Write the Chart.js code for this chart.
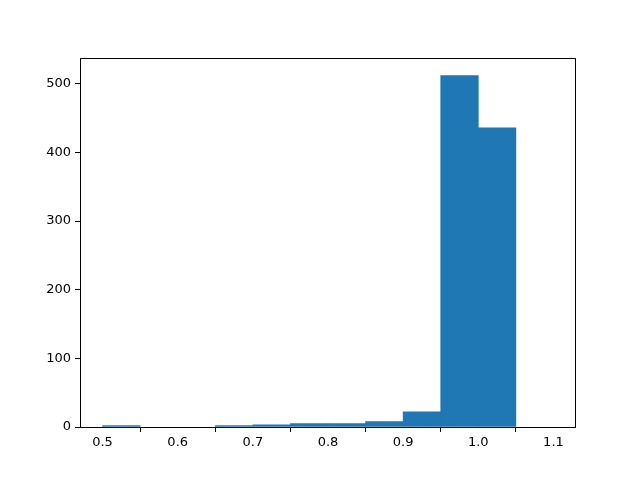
<!DOCTYPE html>
<html>
<head>
<meta charset="utf-8">
<script src="https://cdn.jsdelivr.net/npm/chart.js@4"></script>
<style>
  html, body { margin: 0; padding: 0; background: #fff; }
  #wrap { width: 640px; height: 480px; }
</style>
</head>
<body>
<div id="wrap"><canvas id="hist"></canvas></div>
<script>
// histogram bins (left edges) and counts
const binEdges = [0.5, 0.55, 0.6, 0.65, 0.7, 0.75, 0.8, 0.85, 0.9, 0.95, 1.0, 1.05, 1.1];
const counts = [2, 0, 0, 2, 3, 5, 5, 8, 22, 512, 436, 0];
const xTicks = [0.5, 0.6, 0.7, 0.8, 0.9, 1.0, 1.1];
const yTicks = [0, 100, 200, 300, 400, 500];

// empty bins are left out so no hairline gets drawn for them
const points = counts.map((c, i) => ({ x: (binEdges[i] + binEdges[i + 1]) / 2, y: c > 0 ? c : null }));

const frame = {
    id: 'frame',
    afterDraw(chart) {
        const a = chart.chartArea, ctx = chart.ctx;
        ctx.save();
        ctx.strokeStyle = '#000';
        ctx.lineWidth = 1;
        ctx.strokeRect(a.left + 0.5, a.top + 0.5, a.right - a.left - 1, a.bottom - a.top);
        ctx.restore();
    }
};

new Chart(document.getElementById('hist'), {
    type: 'bar',
    data: {
        datasets: [{
            data: points,
            backgroundColor: '#1f77b4',
            borderWidth: 0,
            barPercentage: 1.0,
            categoryPercentage: 1.0
        }]
    },
    options: {
        responsive: true,
        maintainAspectRatio: false,
        animation: false,
        layout: { padding: { left: 0, right: 64, top: 58, bottom: 0 } },
        plugins: { legend: { display: false }, tooltip: { enabled: false } },
        scales: {
            x: {
                type: 'linear',
                offset: false,
                min: 0.47,
                max: 1.13,
                afterBuildTicks: s => { s.ticks = xTicks.map(v => ({ value: v })); },
                afterFit: s => { s.height = 53; },
                grid: { drawOnChartArea: false, tickLength: 5, tickColor: '#000' },
                border: { display: false },
                ticks: {
                    color: '#000',
                    font: { family: 'DejaVu Sans', size: 13 },
                    padding: 3,
                    maxRotation: 0,
                    callback: v => v.toFixed(1)
                }
            },
            y: {
                min: 0,
                max: 537.6,
                afterBuildTicks: s => { s.ticks = yTicks.map(v => ({ value: v })); },
                afterFit: s => { s.width = 80; },
                grid: { drawOnChartArea: false, tickLength: 5, tickColor: '#000' },
                border: { display: false },
                ticks: {
                    color: '#000',
                    font: { family: 'DejaVu Sans', size: 13 },
                    padding: 4
                }
            }
        }
    },
    plugins: [frame]
});
</script>
</body>
</html>
